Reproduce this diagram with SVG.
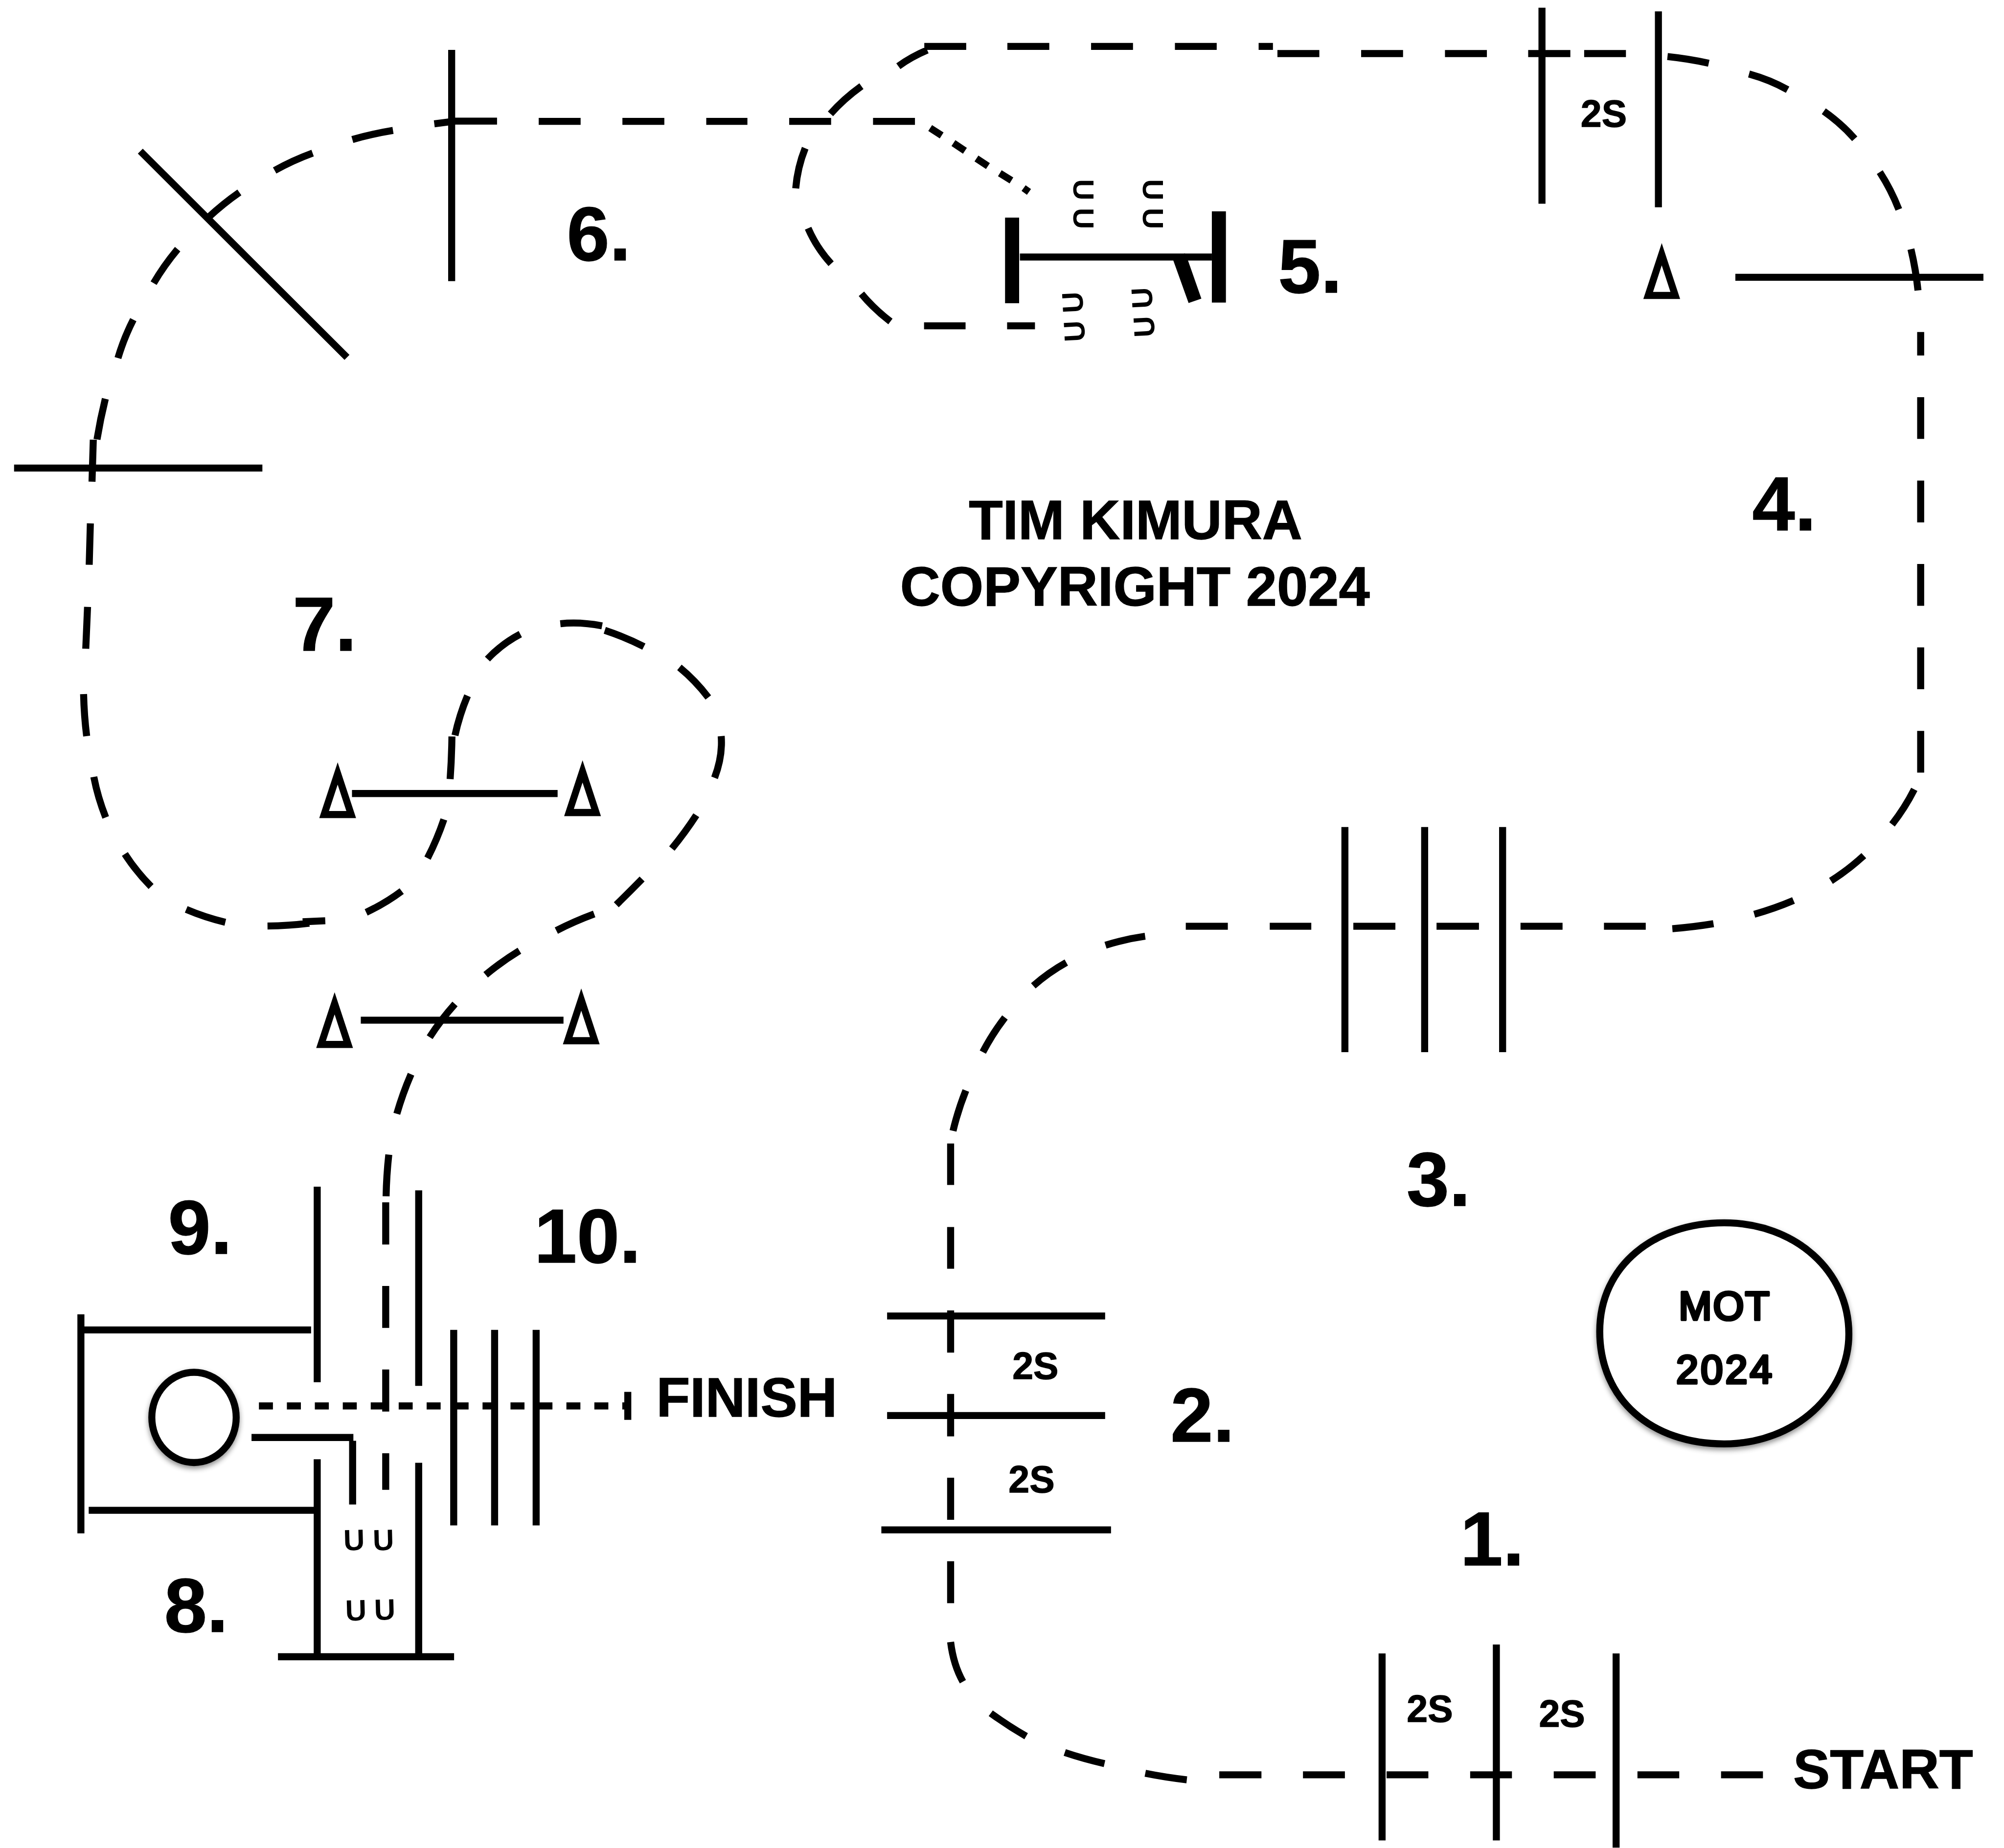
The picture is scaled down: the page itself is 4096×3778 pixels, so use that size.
<svg xmlns="http://www.w3.org/2000/svg" xmlns:xlink="http://www.w3.org/1999/xlink" width="4096" height="3778" viewBox="0 0 4096 3778">
<style>
.l{fill:none;stroke:#000;stroke-width:5.5;stroke-linecap:butt}
.t{font-family:"Liberation Sans",Arial,sans-serif;font-weight:700;fill:#000;stroke:#000;stroke-width:.5}
.n{font-size:60px}
.b{font-size:43.5px;text-anchor:middle}
.m{font-size:43.2px}
.s{font-size:29.5px}
.u{font-size:23px;text-anchor:middle;stroke-width:0}
.c{font-family:"Liberation Sans",Arial,sans-serif;font-size:31px;fill:#000;stroke:#000;stroke-width:2.2;stroke-linejoin:round;stroke-linecap:round;text-anchor:middle}
.o{fill:#fff;stroke:#000;stroke-width:5.5;filter:url(#sh)}
</style>
<defs>
<filter id="sh" x="-10%" y="-10%" width="120%" height="125%"><feDropShadow dx="0" dy="2" stdDeviation="2" flood-color="#000" flood-opacity="0.45"/></filter>
<path id="tri" fill-rule="evenodd" d="M0,0L14.4,43.7L-14.4,43.7ZM0,17.4L-6.8,38.1L6.8,38.1Z"/>
</defs>
<rect width="4096" height="3778" fill="#fff"/>
<g transform="scale(2.61224)">
<g id="connectors">
<path id="track" class="l" d="M1346.6,1389H1379.4M1281.2,1389H1313.9M1215.7,1389H1248.5M1150.3,1389H1183M1084.9,1389H1117.6M1019.5,1389H1052.3M954,1389H987
M928.6,1392.9Q912,1391 896.1,1387.8M864.2,1380.2Q848,1376.5 833.1,1371.5M802.9,1358.8Q788.5,1350.5 775.2,1340.8M753.4,1316.1Q746,1303 743.8,1285.1
M743.8,1254.7V1221.8M743.8,1189.4V1156.5M743.8,1124.1V1090.9M743.8,1058.6V1025.6M743.8,992.9V960.3M743.8,927.4V894.9
M745.7,885Q749.5,869 755.7,853.4M769,823.4Q776.5,809 786.3,796.3M808.5,771.5Q820.5,761 834.3,753.3M865,739.7Q880,735 896,732.7
M927.8,724.9H960.7M993.5,724.9H1026M1058.9,724.9H1091.8M1124,724.9H1157.2M1189.7,724.9H1222.6M1255,724.9H1287.7
M1308.5,726.8Q1325,725.5 1340.7,722.9M1372.6,715.5Q1388.5,711 1403.3,704.7M1432.6,689.4Q1446.5,680.5 1458.3,669.6M1480.4,645.2Q1490.5,632.3 1497.8,617.8
M1502.8,604.7V572M1502.8,539.4V506.7M1502.8,474.1V441.4M1502.8,408.8V376.1M1502.8,343.5V310.8M1502.8,278.2V259.8
M1500.7,227.3Q1499,211 1495.2,195M1485.7,163.9Q1479.7,148.5 1470.8,134.7M1451.2,108.6Q1440.5,96.5 1427,87M1398.7,70.2Q1385,62.5 1368.5,57.9M1337,49.5Q1321,46 1304.7,44.3
M1272.2,41.9H1239.5M1228.7,41.9H1195.7M1163.4,41.9H1130.6M1097.8,41.9H1065M1032.3,41.9H999.5
M996,36.3H984.8M952,36.3H919.3M886.5,36.3H853.7M821,36.3H788.2M756,36.3H723.2
M725.5,39.2Q713,44.5 702.9,51.8M674,67.4Q660,77.5 649.8,89.1M630,116Q624,131 622.6,147.4M632.3,178.6Q639,194 650.3,206.4M674,229.9Q684,242 696.7,251.6
M723,255H755.5M788,255H809.8
M715.9,95H683.1M650.3,95H617.5M584.8,95H552.6M519.8,95H487M454.3,95H421.5M388.9,94.8H356L339.8,96.9
M307.5,102.1Q291,104.8 275.7,109.2M244.6,119.8Q229,125.5 214.9,133.4M187.3,150.6Q174.5,159.5 163,170.2M139,195Q128.5,207.5 120.2,221.6M104.3,250.2Q97,264.5 92.3,280.2M82.4,312.1Q78.5,328 75.9,343.9M73,344.1L72,377M70.7,409.6L69.8,442
M68.5,475L67.1,507.7M65.4,543.2Q65.8,560 67.8,576.1M73.4,608Q76.5,624 82.7,639.7M97.7,668.3Q106.5,682 118.2,693.8M145.7,711.7Q160.5,718 176.3,721.8M209.3,724.7Q226,724.5 242,722.5M236.8,721.4L254.5,720.6
M286.5,714Q301.5,707 314.3,697.4M334.5,671.6Q342,657 347.3,641.3M352.2,609.7Q353.4,593 353.6,576.4M356,575.5Q359.5,559.5 365.8,544.5M381.4,515.8Q392.5,504 407.1,496.3M438.4,488.1Q454,486.5 471.1,489.8M473.2,493.3Q489,498.5 503.8,506M531.6,522.3Q544,532.5 554.2,545.8
M564.3,576.1Q565.5,592 559.1,608.7M544.8,638Q536,651.5 525.7,664.1M502.4,687.9Q492.5,698 482.2,708.1M464.9,715.3Q449.5,721 435.3,728.3M406.4,744Q392.5,752.5 380,762.9M356,785.7Q345,798 336.2,811.7M321.6,840.7Q315,856 310.5,871.7M304.2,903.6Q302.4,920 302.1,936.2
M301.8,941V974M301.8,1006.4V1039.2M301.8,1071.8V1104.7M301.8,1137.3V1166"/>
<path id="spur" class="l" d="M727.8,100.2L736.8,106M746,112L755,118M764,124L773,130M782.3,135.6L791.4,141.2M800.9,147.2L805.1,150.2"/>
<line id="finish-line" class="l" x1="202.6" y1="1100.3" x2="491" y2="1100.3" stroke-dasharray="10.95 10.92"/>
<line id="finish-tick" class="l" x1="491.2" y1="1089.3" x2="491.2" y2="1111.2"/>
</g>
<g id="obstacle-1" class="l"><path d="M1081.4,1294V1440.3M1170.8,1287V1440.3M1264.5,1294V1446"/></g>
<g id="obstacle-2" class="l"><path d="M694.1,1029.9H864.7M694.1,1107.8H864.7M689.6,1197.3H869.3"/></g>
<g id="obstacle-3" class="l"><path d="M1052.3,647.2V823.4M1114.7,647.2V823.4M1175.7,647.2V823.4"/></g>
<g id="obstacle-4">
<path class="l" d="M1206.5,6V159.4M1297.6,8.9V162.2M1357.8,217H1551.9"/>
<use xlink:href="#tri" href="#tri" transform="translate(1300.2,190.3)"/>
</g>
<g id="obstacle-5">
<rect x="786.4" y="170.3" width="11" height="67"/>
<rect x="948.2" y="165.4" width="11" height="71.4"/>
<rect x="798" y="198.4" width="150.2" height="5.5"/>
<polygon points="918,203.8 930,237.2 940,233.7 929.5,203.8 927,198.2"/>
<text class="t u" transform="translate(848,148.5) rotate(90)" y="8.2">U</text>
<text class="t u" transform="translate(848,171) rotate(90)" y="8.2">U</text>
<text class="t u" transform="translate(902.5,148.5) rotate(90)" y="8.2">U</text>
<text class="t u" transform="translate(902.5,171) rotate(90)" y="8.2">U</text>
<text class="t u" transform="translate(839,236.7) rotate(-93)" y="8.2">U</text>
<text class="t u" transform="translate(840.4,259.2) rotate(-93)" y="8.2">U</text>
<text class="t u" transform="translate(893.3,233.2) rotate(-93)" y="8.2">U</text>
<text class="t u" transform="translate(894.9,255.7) rotate(-93)" y="8.2">U</text>
</g>
<g id="obstacle-6" class="l"><path d="M353.4,39V220M109.8,118.3L271.5,279.7M11,366.3H205.3"/></g>
<g id="obstacle-7">
<path class="l" d="M275.4,621H436.3M282.3,798.4H440.9"/>
<use xlink:href="#tri" href="#tri" transform="translate(264.2,596.6)"/>
<use xlink:href="#tri" href="#tri" transform="translate(455.8,595)"/>
<use xlink:href="#tri" href="#tri" transform="translate(261.8,776.5)"/>
<use xlink:href="#tri" href="#tri" transform="translate(454.8,773.6)"/>
</g>
<g id="obstacle-8-9-10">
<path class="l" d="M63.3,1028.6V1200M64.5,1040.8H243.4M69.4,1182H246M248.2,928.7V1081.7M248.2,1142V1296.6M327.6,931.6V1084.6M327.6,1144.8V1296.6M217.5,1296.6H355.3M355,1040.8V1193.8M387,1040.8V1193.8M419.5,1040.8V1193.8M196.8,1125H276.5M275.9,1127.6V1177.4"/>
<ellipse class="o" cx="151.8" cy="1109.3" rx="33" ry="35.3"/>
<text class="t u" transform="translate(277,1205) rotate(-1.5)" y="8.2">U</text>
<text class="t u" transform="translate(300,1205) rotate(-1.5)" y="8.2">U</text>
<text class="t u" transform="translate(278.4,1260) rotate(-1.5)" y="8.2">U</text>
<text class="t u" transform="translate(301,1259.5) rotate(-1.5)" y="8.2">U</text>
</g>
<g id="stamp">
<path class="o" d="M1251.7,1042C1251.7,990 1295,957 1349,957C1405,957 1446.6,995 1446.6,1044C1446.6,1090 1405,1130 1349,1130C1292,1130 1251.7,1095 1251.7,1042Z"/>
<text class="c" x="1349.5" y="1033" letter-spacing="1">MOT</text>
<text class="c" x="1350" y="1082.6" letter-spacing="2">2024</text>
</g>
<g id="labels">
<text class="t n" x="1142.5" y="1225">1.</text>
<text class="t n" x="915.8" y="1128">2.</text>
<text class="t n" x="1100.5" y="943.5">3.</text>
<text class="t n" x="1371" y="415">4.</text>
<text class="t n" x="1000" y="229">5.</text>
<text class="t n" x="443.5" y="203.8">6.</text>
<text class="t n" x="229" y="509.3">7.</text>
<text class="t n" x="128.5" y="1277">8.</text>
<text class="t n" x="131.5" y="981">9.</text>
<text class="t n" x="418" y="988">10.</text>
<text class="t b" x="888.5" y="422">TIM KIMURA</text>
<text class="t b" x="888" y="474">COPYRIGHT 2024</text>
<text class="t m" x="1403" y="1399.5">START</text>
<text class="t m" x="513.5" y="1108.5">FINISH</text>
<text class="t s" x="1236.8" y="99.2">2S</text>
<text class="t s" x="792.1" y="1079.2">2S</text>
<text class="t s" x="789.1" y="1168">2S</text>
<text class="t s" x="1100.7" y="1347.6">2S</text>
<text class="t s" x="1204.1" y="1351.2">2S</text>
</g>
</g>
</svg>
